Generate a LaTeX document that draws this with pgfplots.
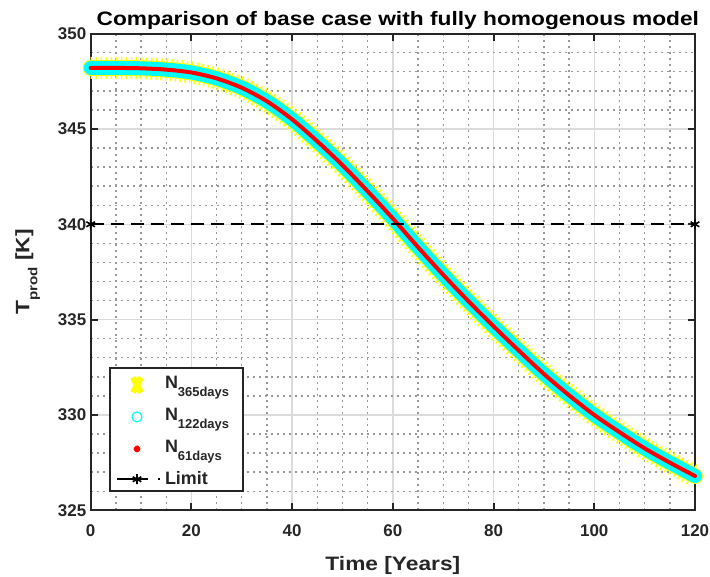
\documentclass[border=0pt]{standalone}
\usepackage{fontspec}
\setmainfont{Liberation Sans}
\usepackage{pgfplots}
\usepackage{pgfplotstable}
\pgfplotsset{compat=1.18}
\definecolor{axgray}{HTML}{262626}
\definecolor{myyellow}{HTML}{FFFF00}
\definecolor{mycyan}{HTML}{00FFFF}
\definecolor{myred}{HTML}{FF0000}
\pgfplotstableread{
x y
0 348.20
5 348.20
10 348.18
15 348.11
20 347.96
25 347.65
30 347.16
35 346.45
40 345.50
45 344.35
50 343.10
55 341.73
60 340.30
65 338.80
70 337.35
75 335.97
80 334.65
85 333.38
90 332.15
95 331.03
100 330.00
105 329.10
110 328.25
115 327.50
120 326.80
}\datatable
\pgfplotstableread{
x y
0 340
120 340
}\limittable
\newcommand{\subs}[1]{\raisebox{-8bp}{\fontsize{13}{15}\selectfont #1}}
\newcommand{\wide}[1]{\scalebox{1.17}[1]{#1}}
\newcommand{\lstrut}{\rule{0pt}{15bp}}
\begin{document}
\begin{tikzpicture}
\begin{axis}[
  name=ax,
  scale only axis, width=604.3bp, height=476.7bp,
  xmin=0, xmax=120, ymin=325, ymax=350,
  xtick={0,20,...,120}, ytick={325,330,...,350},
  minor x tick num=3, minor y tick num=4,
  grid=both,
  major grid style={black!14, line width=1.4bp},
  minor grid style={black!40, line width=1.4bp, dash pattern=on 2bp off 4bp},
  axis line style={axgray, line width=2bp},
  every tick/.style={axgray, line width=2bp},
  major tick length=7bp, minor tick length=0pt,
  tick align=inside,
  ticklabel style={font=\fontsize{17}{20}\selectfont\bfseries, text=axgray},
  /pgf/number format/assume math mode=true,
  xticklabel style={yshift=-11bp},
  yticklabel style={xshift=-1bp},
  title={\wide{Comparison of base case with fully homogenous model}},
  title style={font=\fontsize{19.5}{22}\selectfont\bfseries, yshift=-6bp, xshift=5bp},
  xlabel={\wide{Time [Years]}},
  ylabel={\wide{T\subs{prod} [K]}},
  label style={font=\fontsize{19.5}{22}\selectfont\bfseries, text=axgray},
  xlabel style={yshift=-13bp},
  ylabel style={yshift=11bp},
  clip=false,
  legend style={at={(0.0303,0.0378)}, anchor=south west, draw=axgray, line width=2bp,
    fill=white, font=\fontsize{18}{20}\selectfont\bfseries, text=axgray,
    row sep=15.5bp, column sep=0pt, inner xsep=7bp, inner ysep=5.6bp,
    nodes={inner sep=0pt}},
  legend cell align=left,
]
\addplot[myyellow, line width=22bp, line cap=butt, smooth, dash pattern=on 1.5bp off 3.5bp,
  forget plot] table {\datatable};
\addplot[myyellow, line width=16bp, line cap=round, line join=round, smooth,
  legend image code/.code={
    \path[draw=none, fill=none] (0bp,0bp) -- (48bp,0bp);
    \begin{pgfinterruptboundingbox}
    \draw[myyellow, solid, line width=6bp, line cap=butt] (16bp,-11bp)--(24bp,4bp) (16bp,4bp)--(24bp,-11bp);
    \end{pgfinterruptboundingbox}
  }] table {\datatable};
\addlegendentry{N\subs{365days}\hspace{7bp}\lstrut}
\addplot[mycyan, line width=14bp, line cap=round, line join=round, smooth,
  legend image code/.code={
    \path[draw=none, fill=none] (0bp,0bp) -- (48bp,0bp);
    \begin{pgfinterruptboundingbox}
    \draw[mycyan, solid, line width=1.2bp] (20bp,-3.5bp) circle (5bp);
    \end{pgfinterruptboundingbox}
  }] table {\datatable};
\addlegendentry{N\subs{122days}\hspace{7bp}\lstrut}
\addplot[myred, line width=4bp, line cap=round, line join=round, smooth,
  legend image code/.code={
    \path[draw=none, fill=none] (0bp,0bp) -- (48bp,0bp);
    \begin{pgfinterruptboundingbox}
    \fill[myred] (20bp,-3.5bp) circle (1.5bp);
    \end{pgfinterruptboundingbox}
  }] table {\datatable};
\addlegendentry{N\subs{61days}\hspace{7bp}\lstrut}
\addplot[black, line width=2.2bp, dash pattern=on 13bp off 7bp, mark=asterisk,
  mark size=5bp, mark options={solid, line width=1.6bp},
  legend image code/.code={
    \path[draw=none, fill=none] (0bp,0bp) -- (48bp,0bp);
    \begin{pgfinterruptboundingbox}
    \draw[black, solid, line width=2.2bp] (0bp,-1.8bp)--(31bp,-1.8bp) (41bp,-1.8bp)--(42.5bp,-1.8bp);
    \draw[black, solid, line width=1.6bp] plot[mark=asterisk, mark size=5bp] coordinates {(20bp,-1.8bp)};
    \end{pgfinterruptboundingbox}
  }] table {\limittable};
\addlegendentry{Limit\lstrut}
\end{axis}
\pgfresetboundingbox
\path (-90.7bp,-66.7bp) rectangle (619.3bp,510.3bp);
\end{tikzpicture}
\end{document}
